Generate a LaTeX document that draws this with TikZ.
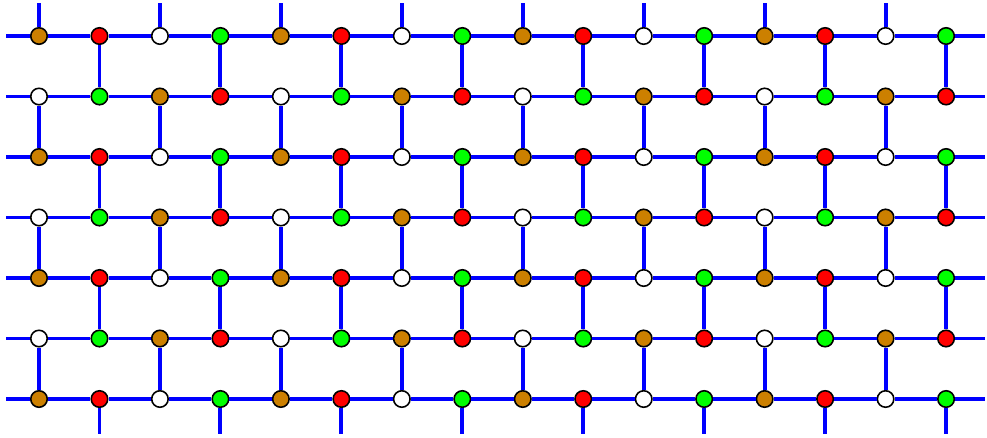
\documentclass[tikz,border=0pt]{standalone}
\usepackage{xcolor}
\usepackage{tikz}
\usetikzlibrary{positioning}

\definecolor{siteorange}{RGB}{204,128,0}

\begin{document}
\begin{tikzpicture}[x=0.02cm,y=-0.02cm,
  bond/.style={blue, line width=2.2pt},
  site/.style={circle, draw=black, line width=0.9pt, minimum size=0.33cm, inner sep=0pt}]
  \useasboundingbox (0,0) rectangle (987,437);

  % Sites of the brick lattice
  \foreach \r in {0,...,6}{
    \foreach \c in {0,...,15}{
      \pgfmathtruncatemacro\k{mod(\c+2*mod(\r,2),4)}
      \ifcase\k \def\sitefill{siteorange}\or \def\sitefill{red}\or \def\sitefill{white}\or \def\sitefill{green}\fi
      \node[site, fill=\sitefill] (n-\r-\c) at ({39+60.47*\c},{36+60.5*\r}) {};
    }
  }

  % Horizontal bonds
  \foreach \r in {0,...,6}{
    \coordinate (l-\r) at (6,{36+60.5*\r});
    \coordinate (e-\r) at (985,{36+60.5*\r});
    \draw[bond] (l-\r) -- (n-\r-0);
    \foreach \c [evaluate=\c as \d using int(\c+1)] in {0,...,14}
      \draw[bond] (n-\r-\c) -- (n-\r-\d);
    \draw[bond] (n-\r-15) -- (e-\r);
  }

  % Vertical bonds
  \foreach \r in {0,...,5}{
    \pgfmathtruncatemacro\s{\r+1}
    \pgfmathtruncatemacro\p{mod(\s,2)}
    \foreach \cc in {0,...,7}{
      \pgfmathtruncatemacro\c{2*\cc+\p}
      \draw[bond] (n-\r-\c) -- (n-\s-\c);
    }
  }

  % Open ends at top and bottom
  \foreach \cc in {0,...,7}{
    \pgfmathtruncatemacro\c{2*\cc}
    \pgfmathtruncatemacro\o{2*\cc+1}
    \coordinate (t-\c) at ({39+60.47*\c},3);
    \coordinate (b-\o) at ({39+60.47*\o},434);
    \draw[bond] (t-\c) -- (n-0-\c);
    \draw[bond] (n-6-\o) -- (b-\o);
  }
\end{tikzpicture}
\end{document}
